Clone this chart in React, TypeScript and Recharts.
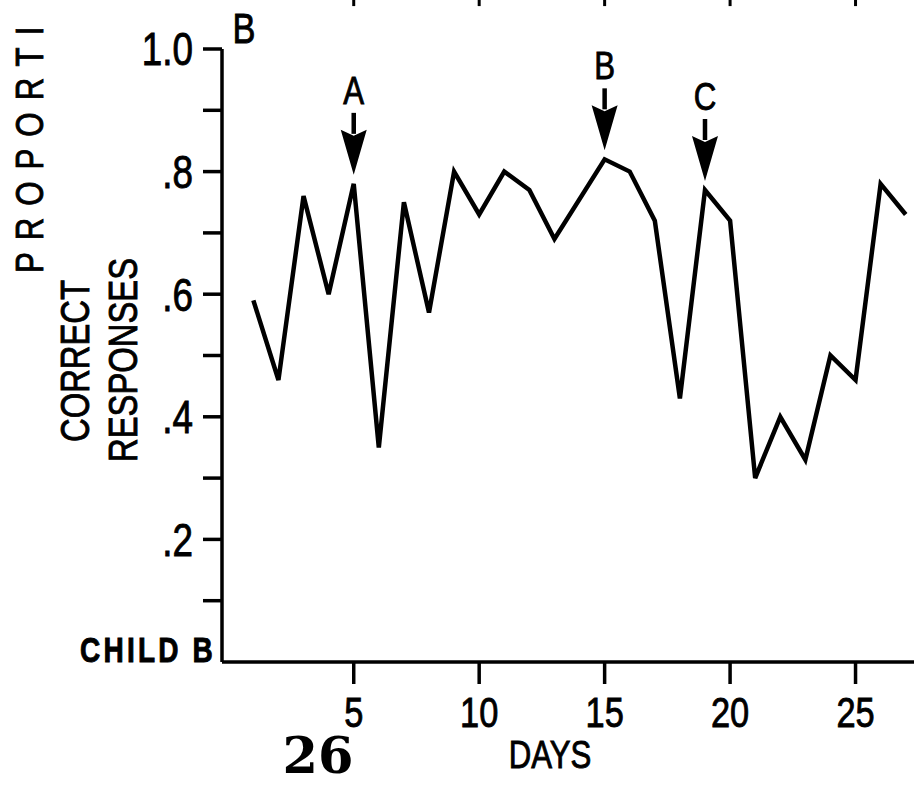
import React from 'react';
import { LineChart, Line, XAxis, YAxis, ReferenceDot, ReferenceLine } from 'recharts';

// days 1..27, no session on day 14
const days = [1, 2, 3, 4, 5, 6, 7, 8, 9, 10, 11, 12, 13, 15, 16, 17, 18, 19, 20, 21, 22, 23, 24, 25, 26, 27];
const correct = [0.59, 0.46, 0.76, 0.6, 0.78, 0.35, 0.75, 0.57, 0.8, 0.73, 0.8, 0.77, 0.69, 0.82, 0.8, 0.72, 0.43, 0.77, 0.72, 0.3, 0.4, 0.33, 0.5, 0.46, 0.78, 0.73];

const xTicks = [5, 10, 15, 20, 25];
const yTicks = [0.1, 0.2, 0.3, 0.4, 0.5, 0.6, 0.7, 0.8, 0.9, 1.0];

const arrowDays = [5, 15, 19];
const arrowLabels = ['A', 'B', 'C'];

const data = days.map((d, i) => ({ day: d, value: correct[i] }));

// no condensed face installed, so squeeze Liberation Sans horizontally
const FONT = '"Liberation Sans", Arial, sans-serif';
const SQ = 0.8;
const INK = '#000';

const fmtY = (v: number) => {
  const t = Math.round(v * 10);
  if (t % 2 !== 0) return '';
  return t === 10 ? '1.0' : '.' + t;
};

function NText({ x, y, size, anchor = 'start', rotate = 0, weight = 'normal', spacing = 0, dy, children }: any) {
  return (
    <text
      transform={`translate(${x},${y}) rotate(${rotate}) scale(${SQ},1)`}
      textAnchor={anchor}
      dy={dy}
      fontFamily={FONT}
      fontSize={size}
      fontWeight={weight}
      letterSpacing={spacing}
      fill={INK}
      stroke={INK}
      strokeWidth={0.9}
    >
      {children}
    </text>
  );
}

const XTick = (props: any) => {
  const { x, y, payload } = props;
  return <NText x={x} y={y} size={43} anchor="middle" dy="0.71em">{payload.value}</NText>;
};

const YTick = (props: any) => {
  const { x, y, payload } = props;
  return <NText x={x} y={y} size={46} anchor="end" dy="0.355em">{fmtY(payload.value)}</NText>;
};

const Arrow = (label: string) => (props: any) => {
  const { cx, cy } = props;
  const tip = cy - 9;
  const headTop = tip - 45;
  const shaftTop = headTop - 17;
  return (
    <g>
      <line x1={cx} y1={shaftTop} x2={cx} y2={headTop + 4} stroke={INK} strokeWidth={4.5} />
      <polygon points={`${cx - 13},${headTop} ${cx},${headTop + 6} ${cx + 13},${headTop} ${cx},${tip}`} fill={INK} />
      <NText x={cx} y={shaftTop - 9} size={39} anchor="middle">{label}</NText>
    </g>
  );
};

export default function App() {
  return (
    <div style={{ position: 'absolute', left: 0, top: 0, width: 914, height: 786, background: '#fff' }}>
      <LineChart width={914} height={786} data={data} margin={{ top: 49, right: 0, bottom: 0, left: 0 }}>
        <XAxis
          dataKey="day"
          type="number"
          domain={[-0.25, 27.33]}
          ticks={xTicks}
          height={124}
          stroke={INK}
          strokeWidth={3.5}
          tickSize={22}
          tickMargin={12}
          tick={<XTick />}
        />
        <YAxis
          type="number"
          domain={[0, 1]}
          ticks={yTicks}
          width={222}
          stroke={INK}
          strokeWidth={3.5}
          tickSize={19}
          tickMargin={10}
          tick={<YTick />}
        />
        {xTicks.map((t) => (
          <ReferenceLine
            key={'top' + t}
            segment={[{ x: t, y: 1.07 }, { x: t, y: 1.1 }]}
            stroke={INK}
            strokeWidth={3}
            ifOverflow="visible"
          />
        ))}
        <Line
          type="linear"
          dataKey="value"
          stroke={INK}
          strokeWidth={4.5}
          dot={false}
          activeDot={false}
          isAnimationActive={false}
        />
        {arrowDays.map((d, i) => (
          <ReferenceDot
            key={'arrow' + d}
            x={d}
            y={correct[days.indexOf(d)]}
            r={0}
            ifOverflow="visible"
            shape={Arrow(arrowLabels[i])}
          />
        ))}
        <NText x={244} y={43} size={43} anchor="middle">B</NText>
        <NText x={43} y={273} size={39} rotate={-90} spacing={15}>PROPORTI</NText>
        <NText x={89} y={361} size={41} rotate={-90} anchor="middle">CORRECT</NText>
        <NText x={137} y={360} size={41} rotate={-90} anchor="middle">RESPONSES</NText>
        <NText x={216} y={662} size={35} anchor="end" weight="bold" spacing={4}>CHILD B</NText>
        <NText x={550} y={768} size={39} anchor="middle">DAYS</NText>
        <text x={318} y={773} textAnchor="middle" fontFamily='"DejaVu Serif", serif' fontWeight="bold" fontSize={51} fill={INK}>
          26
        </text>
      </LineChart>
    </div>
  );
}
